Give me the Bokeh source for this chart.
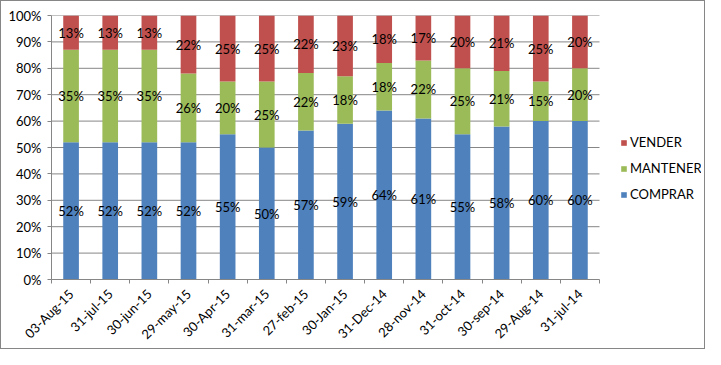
import math
from bokeh.plotting import figure
from bokeh.models import (ColumnDataSource, FixedTicker, NumeralTickFormatter,
                          Legend, LegendItem, Range1d)
from bokeh.core.properties import value
from bokeh.embed import file_html
from bokeh.resources import INLINE

categories = ["03-Aug-15", "31-jul-15", "30-jun-15", "29-may-15", "30-Apr-15",
              "31-mar-15", "27-feb-15", "30-Jan-15", "31-Dec-14", "28-nov-14",
              "31-oct-14", "30-sep-14", "29-Aug-14", "31-jul-14"]
comprar = [52, 52, 52, 52, 55, 50, 57, 59, 64, 61, 55, 58, 60, 60]
mantener = [35, 35, 35, 26, 20, 25, 22, 18, 18, 22, 25, 21, 15, 20]
vender = [13, 13, 13, 22, 25, 25, 22, 23, 18, 17, 20, 21, 25, 20]
series_names = ["COMPRAR", "MANTENER", "VENDER"]
y_ticks = [0, 0.1, 0.2, 0.3, 0.4, 0.5, 0.6, 0.7, 0.8, 0.9, 1.0]

colors = ["#4F81BD", "#9BBB59", "#C0504D"]
GRID = "#868686"
FONT = "Lato"

n = len(categories)
xs = list(range(n))
totals = [c + m + v for c, m, v in zip(comprar, mantener, vender)]
cn = [c / t for c, t in zip(comprar, totals)]
mn = [m / t for m, t in zip(mantener, totals)]
vn = [v / t for v, t in zip(vender, totals)]

# layout (pixels)
W, H = 705, 349
LEFT, TOP = 50, 14
BAR_AREA_W = 548          # width of the category area
FRAME_W = W - LEFT - 5
FRAME_H = 268
BOTTOM = H - TOP - FRAME_H
cat_px = BAR_AREA_W / n
x_end = -0.5 + FRAME_W / cat_px

src = ColumnDataSource(dict(x=xs, c=cn, m=mn, v=vn))

p = figure(width=W, height=H, output_backend="svg", toolbar_location=None,
           x_range=Range1d(-0.5, x_end), y_range=Range1d(0, 1),
           min_border_left=LEFT, min_border_top=TOP, min_border_bottom=BOTTOM,
           min_border_right=5)
p.styles = {"border": "1px solid #868686", "box-sizing": "border-box"}
p.outline_line_color = None
p.background_fill_color = "white"
p.border_fill_color = "white"

# horizontal gridlines limited to the category area
gy = y_ticks[1:]
p.segment(x0=[-0.5] * len(gy), x1=[n - 0.5] * len(gy), y0=gy, y1=gy,
          line_color=GRID, line_width=1)

rs = p.vbar_stack(["c", "m", "v"], x="x", width=0.4, color=colors, source=src,
                  line_color=None)

# labels
lx, ly, lt = [], [], []
for i in range(n):
    base = 0.0
    for raw, frac in ((comprar[i], cn[i]), (mantener[i], mn[i]), (vender[i], vn[i])):
        lx.append(i)
        ly.append(base + frac / 2)
        lt.append(f"{raw}%")
        base += frac
lsrc = ColumnDataSource(dict(x=lx, y=ly, t=lt))
p.text(x="x", y="y", text="t", source=lsrc, text_align="center",
       text_baseline="middle", text_font=value(FONT), text_font_size="13px",
       text_color="black")

# axes
p.yaxis.ticker = FixedTicker(ticks=y_ticks)
p.yaxis.formatter = NumeralTickFormatter(format="0%")
p.yaxis.major_tick_out = 4
p.yaxis.major_tick_in = 0
p.yaxis.minor_tick_line_color = None
p.yaxis.axis_line_color = GRID
p.yaxis.major_tick_line_color = GRID
p.yaxis.major_label_text_font = FONT
p.yaxis.major_label_text_font_size = "13px"
p.yaxis.major_label_text_color = "black"
p.yaxis.major_label_standoff = 6

p.xaxis.bounds = (-0.5, n - 0.5)
p.xaxis.ticker = FixedTicker(ticks=xs, minor_ticks=[i - 0.5 for i in range(n + 1)])
p.xaxis.major_label_overrides = {i: categories[i] for i in xs}
p.xaxis.major_tick_out = 0
p.xaxis.major_tick_in = 0
p.xaxis.minor_tick_out = 4
p.xaxis.minor_tick_in = 0
p.xaxis.minor_tick_line_color = GRID
p.xaxis.axis_line_color = GRID
p.xaxis.major_label_orientation = math.pi / 4
p.xaxis.major_label_text_font = FONT
p.xaxis.major_label_text_font_size = "13px"
p.xaxis.major_label_text_color = "black"
p.xaxis.major_label_standoff = 8

p.xgrid.grid_line_color = None
p.ygrid.grid_line_color = None

legend = Legend(items=[LegendItem(label=series_names[2], renderers=[rs[2]]),
                       LegendItem(label=series_names[1], renderers=[rs[1]]),
                       LegendItem(label=series_names[0], renderers=[rs[0]])],
                location=(569, 77), orientation="vertical")
legend.glyph_width = 7
legend.glyph_height = 7
legend.label_height = 13
legend.spacing = 10
legend.padding = 0
legend.margin = 0
legend.label_standoff = 3
legend.label_text_font = FONT
legend.label_text_font_size = "13px"
legend.label_text_color = "black"
legend.border_line_color = None
legend.background_fill_alpha = 0
p.add_layout(legend, "center")

open("out.html", "w").write(file_html(p, INLINE))
